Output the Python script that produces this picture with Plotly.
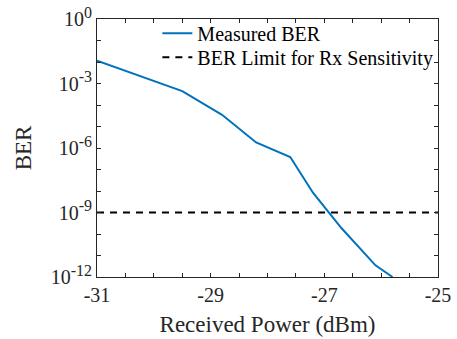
import plotly.graph_objects as go

# Data
power_dbm = [-31.0, -30.0, -29.5, -28.8, -28.2, -27.6, -27.2, -26.7, -26.1, -25.8]
measured_ber = [1.15e-2, 1.26e-3, 4.4e-4, 3.5e-5, 1.8e-6, 3.8e-7, 8.3e-9, 1.9e-10, 3.5e-12, 1.0e-12]
limit_x = [-31, -25]
limit_y = [1e-9, 1e-9]

x_tick_vals = [-31 + 0.5 * i for i in range(13)]
x_labels = {-31: "-31", -29: "-29", -27: "-27", -25: "-25"}
x_tick_text = [x_labels.get(v, "") for v in x_tick_vals]
y_exps = list(range(-12, 1))
y_tick_vals = [10.0 ** e for e in y_exps]
y_tick_text = [
    f'10<sup><span style="font-size:16px">{e}</span></sup>' if e % 3 == 0 else ""
    for e in y_exps
]

font_family = "Liberation Serif"
axis_color = "#262626"

fig = go.Figure()
fig.add_trace(go.Scatter(
    x=power_dbm, y=measured_ber, mode="lines", name="Measured BER",
    line=dict(color="#0072BD", width=2), legend="legend",
))
fig.add_trace(go.Scatter(
    x=limit_x, y=limit_y, mode="lines", name="BER Limit for Rx Sensitivity",
    line=dict(color="black", width=2, dash="7px,6px"), legend="legend2",
))

legend_common = dict(
    xanchor="left", yanchor="middle",
    bgcolor="rgba(0,0,0,0)", borderwidth=0,
    font=dict(family=font_family, size=20, color="black"),
    itemwidth=30,
)

fig.update_layout(
    width=457, height=339,
    margin=dict(l=97, r=19, t=19, b=62),
    paper_bgcolor="white", plot_bgcolor="white",
    font=dict(family=font_family, size=20, color=axis_color),
    showlegend=True,
    legend=dict(x=0.177, y=0.945, **legend_common),
    legend2=dict(x=0.177, y=0.852, **legend_common),
    xaxis=dict(
        range=[-31, -25], tickmode="array", tickvals=x_tick_vals, ticktext=x_tick_text,
        ticks="inside", ticklen=4, tickcolor=axis_color, showgrid=False, zeroline=False,
        showline=True, linecolor=axis_color, linewidth=1, mirror="ticks", automargin=False,
        title=dict(text="Received Power (dBm)", font=dict(family=font_family, size=23, color=axis_color), standoff=10),
        tickfont=dict(family=font_family, size=20, color=axis_color),
    ),
    yaxis=dict(
        type="log", range=[-12, 0], tickmode="array", tickvals=y_tick_vals, ticktext=y_tick_text,
        ticks="inside", ticklen=4, tickcolor=axis_color, showgrid=False, zeroline=False,
        showline=True, linecolor=axis_color, linewidth=1, mirror="ticks", automargin=False,
        title=dict(text="BER", font=dict(family=font_family, size=23, color=axis_color), standoff=12),
        tickfont=dict(family=font_family, size=20, color=axis_color),
    ),
)

fig.write_html(
    "out.html",
    config={"displayModeBar": False},
    post_script="document.body.style.margin='0';document.body.style.overflow='hidden';",
)
